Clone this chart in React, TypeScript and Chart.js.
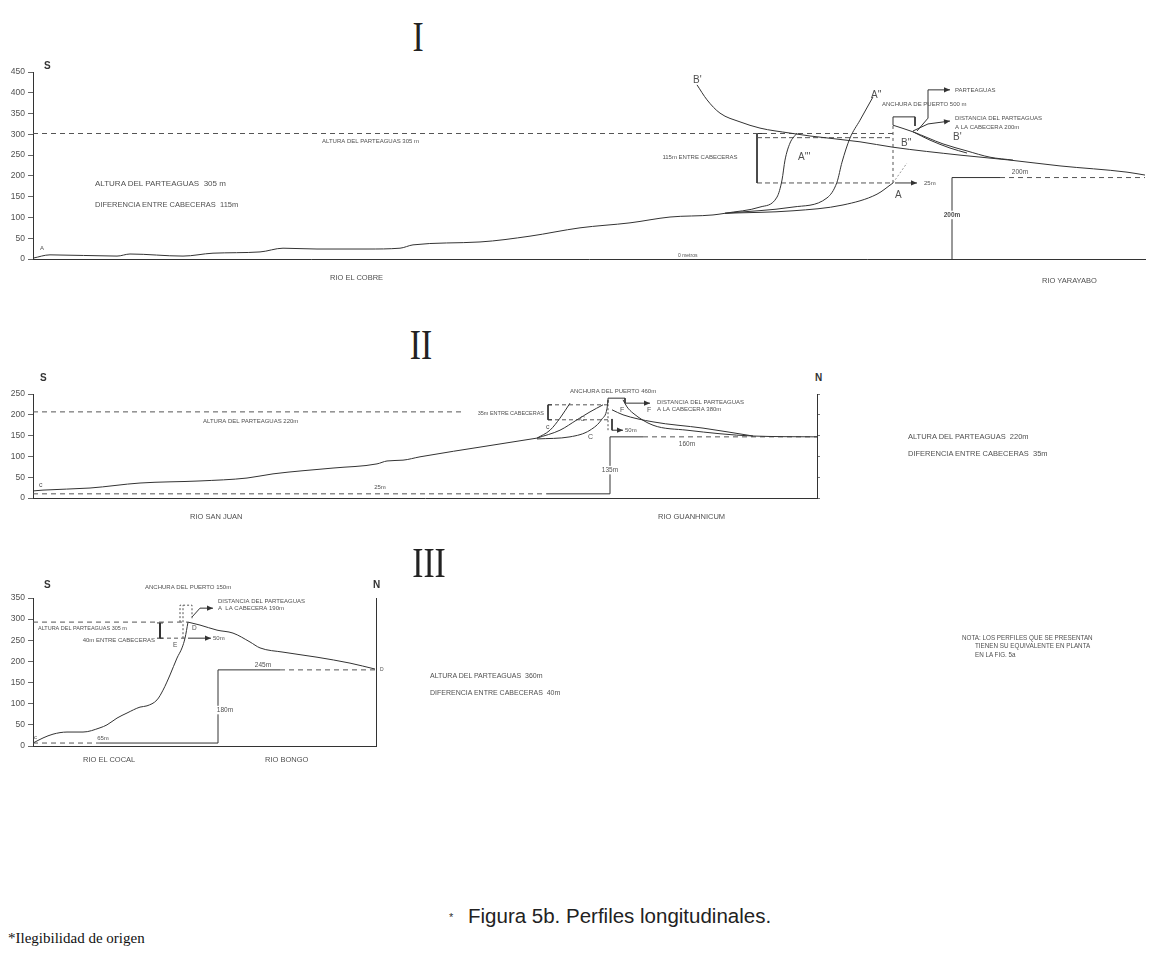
import React, { useEffect, useRef } from "react";
import { Chart, registerables } from "chart.js";
Chart.register(...registerables);

const FONT = '"Liberation Sans", Arial, Helvetica, sans-serif';
const SERIF = '"Liberation Serif", "Times New Roman", serif';
const INK = "#333";
const DASH = "#555";
const TXT = "#505050";

// ---------------- Perfil I (Río El Cobre – Río Yarayabo) ----------------
const yTicksI = [0, 50, 100, 150, 200, 250, 300, 350, 400, 450];
const cobreX = [0, 17, 84, 97, 150, 180, 227, 250, 284, 334, 367, 380, 447, 497, 547, 597, 637, 680, 692];
const cobreY = [2, 10, 7, 12, 7, 14, 17, 26, 24, 24, 26, 34, 41, 55, 75, 87, 101, 106, 110];
const cabAX = [692, 760, 810, 844, 860];
const cabAY = [110, 116, 130, 156, 183];
const cabA2X = [692, 760, 794, 804, 809, 817, 827, 840];
const cabA2Y = [110, 125, 147, 185, 233, 291, 334, 390];
const cabA3X = [692, 727, 744, 749, 752, 757, 764];
const cabA3Y = [110, 125, 149, 190, 238, 279, 303];
const yarayaboX = [664, 674, 687, 707, 727, 757, 777, 827, 860, 927, 977, 1027, 1094, 1112];
const yarayaboY = [419, 383, 351, 330, 315, 303, 296, 282, 269, 250, 238, 224, 209, 202];
const cabB2X = [860, 880, 910, 934, 957, 980];
const cabB2Y = [322, 306, 277, 260, 245, 238];
const lenteX = [880, 897, 917, 934];
const lenteY = [306, 286, 267, 255];
const parteaguasI = 302;
const cabeceraI = 183;
const escalonI = 196;

// ---------------- Perfil II (Río San Juan – Río Guanhnicum) ----------------
const yTicksII = [0, 50, 100, 150, 200, 250];
const sanJuanX = [0, 10, 57, 107, 167, 214, 240, 300, 344, 354, 370, 387, 454, 504];
const sanJuanY = [17, 19, 24, 36, 41, 48, 58, 72, 82, 89, 91, 99, 125, 144];
const cabCaX = [504, 517, 527, 537];
const cabCaY = [144, 163, 192, 228];
const cabCbX = [504, 527, 544, 557, 570];
const cabCbY = [144, 163, 188, 207, 224];
const cabCcX = [504, 537, 557, 569, 574, 575];
const cabCcY = [142, 147, 163, 190, 215, 236];
const guanFaX = [590, 594, 600, 620, 654, 720, 784];
const guanFaY = [236, 219, 204, 175, 163, 149, 147];
const guanFbX = [579, 590, 620, 670, 720];
const guanFbY = [212, 200, 183, 168, 149];
const parteaguasII = 207;
const escalonII = 147;

// ---------------- Perfil III (Río El Cocal – Río Bongo) ----------------
const yTicksIII = [0, 50, 100, 150, 200, 250, 300, 350];
const cocalX = [0, 10, 20, 34, 50, 67, 74, 84, 94, 107, 114, 124, 130, 137, 144, 149, 152, 155];
const cocalY = [7, 19, 28, 33, 33, 43, 50, 66, 78, 92, 95, 109, 132, 168, 208, 232, 255, 293];
const bongoX = [155, 167, 184, 200, 217, 227, 250, 284, 317, 342];
const bongoY = [293, 286, 274, 267, 246, 232, 222, 210, 196, 182];
const parteaguasIII = 293;
const escalonIII = 180;

const L = (xs: number[], ys: number[], o: any = {}) => ({
  data: xs.map((x, i) => ({ x, y: ys[i] })),
  borderColor: o.c || INK,
  borderWidth: o.w ?? 1,
  borderDash: o.d || [],
  pointRadius: 0,
  fill: false,
  clip: false,
  tension: o.smooth ? 0.4 : 0,
  cubicInterpolationMode: o.smooth ? "monotone" : "default",
  arrow: !!o.arrow,
});

const dsI = [
  L(cobreX, cobreY, { smooth: true }),
  L(cabAX, cabAY, { smooth: true }),
  L(cabA2X, cabA2Y, { smooth: true }),
  L(cabA3X, cabA3Y, { smooth: true }),
  L(yarayaboX, yarayaboY, { smooth: true }),
  L(cabB2X, cabB2Y, { smooth: true }),
  L(lenteX, lenteY, { smooth: true }),
  L([0, 860], [parteaguasI, parteaguasI], { d: [5, 4], c: DASH }),
  L([724, 860], [parteaguasI - 10, parteaguasI - 10], { d: [5, 3], c: DASH }),
  L([732, 724, 724], [parteaguasI, parteaguasI, cabeceraI]),
  L([724, 860], [cabeceraI, cabeceraI], { d: [5, 3], c: DASH }),
  L([862, 884], [cabeceraI, cabeceraI], { arrow: true }),
  L([860, 860], [cabeceraI, 322], { d: [3, 3], c: DASH }),
  L([860, 860, 882, 882], [322, 342, 342, 320]),
  L([884, 895, 895, 917], [308, 339, 407, 407], { arrow: true }),
  L([880, 895, 917], [308, 325, 332], { arrow: true }),
  L([860, 874], [cabeceraI, 231], { d: [2, 2], c: "#999" }),
  L([919, 919, 967], [0, escalonI, escalonI]),
  L([967, 1112], [escalonI, escalonI], { d: [5, 4], c: DASH }),
];

const labI = [
  { t: "ALTURA DEL PARTEAGUAS 305 m", x: 289, y: 284, s: 6 },
  { t: "115m ENTRE CABECERAS", x: 667, y: 245, s: 6, a: "center" },
  { t: "B'", x: 660, y: 431, s: 10 },
  { t: "A''", x: 838, y: 395, s: 10 },
  { t: "A'''", x: 765, y: 245, s: 10 },
  { t: "B''", x: 868, y: 279, s: 10 },
  { t: "B'", x: 920, y: 293, s: 10 },
  { t: "A", x: 862, y: 154, s: 10 },
  { t: "ANCHURA DE PUERTO 500 m", x: 849, y: 373, s: 6 },
  { t: "PARTEAGUAS", x: 922, y: 407, s: 6 },
  { t: "DISTANCIA DEL PARTEAGUAS", x: 922, y: 339, s: 6 },
  { t: "A LA CABECERA 200m", x: 922, y: 318, s: 6 },
  { t: "25m", x: 891, y: 183, s: 6 },
  { t: "200m", x: 987, y: 210, s: 6.5, a: "center" },
  { t: "200m", x: 919, y: 106, s: 6.5, a: "center", bg: true, b: true },
  { t: "0 metros", x: 645, y: 8, s: 5 },
  { t: "A", x: 7, y: 26, s: 6 },
];

const dsII = [
  L(sanJuanX, sanJuanY, { smooth: true }),
  L(cabCaX, cabCaY, { smooth: true }),
  L(cabCbX, cabCbY, { smooth: true }),
  L(cabCcX, cabCcY, { smooth: true }),
  L(guanFaX, guanFaY, { smooth: true }),
  L(guanFbX, guanFbY, { smooth: true }),
  L([0, 430], [parteaguasII, parteaguasII], { d: [5, 4], c: DASH }),
  L([519, 515, 515, 519], [224, 224, 188, 188]),
  L([515, 575], [224, 224], { d: [4, 3], c: DASH }),
  L([515, 575], [188, 188], { d: [4, 3], c: DASH }),
  L([575, 575], [163, 240], { d: [2, 2], c: DASH }),
  L([575, 575, 592, 592], [228, 240, 240, 228]),
  L([592, 617], [228, 228], { arrow: true }),
  L([579, 579, 590], [190, 163, 163], { arrow: true }),
  L([0, 514], [10, 10], { d: [5, 4], c: DASH }),
  L([514, 577, 577, 610], [10, 10, escalonII, escalonII]),
  L([610, 784], [escalonII, escalonII], { d: [5, 4], c: DASH }),
];

const labII = [
  { t: "ALTURA DEL PARTEAGUAS 220m", x: 170, y: 185, s: 6 },
  { t: "35m ENTRE CABECERAS", x: 511, y: 204, s: 5.5, a: "right" },
  { t: "ANCHURA DEL PUERTO 460m", x: 537, y: 257, s: 6 },
  { t: "DISTANCIA DEL PARTEAGUAS", x: 624, y: 231, s: 6 },
  { t: "A LA CABECERA 380m", x: 624, y: 212, s: 6 },
  { t: "50m", x: 592, y: 163, s: 6 },
  { t: "25m", x: 347, y: 26, s: 6, a: "center" },
  { t: "135m", x: 577, y: 67, s: 6.5, a: "center", bg: true },
  { t: "160m", x: 654, y: 130, s: 6.5, a: "center" },
  { t: "c", x: 513, y: 171, s: 7 },
  { t: "C", x: 547, y: 190, s: 7 },
  { t: "C", x: 555, y: 147, s: 7 },
  { t: "F", x: 587, y: 212, s: 7 },
  { t: "F", x: 614, y: 212, s: 7 },
  { t: "c", x: 6, y: 31, s: 7 },
];

const dsIII = [
  L(cocalX, cocalY, { smooth: true }),
  L(bongoX, bongoY, { smooth: true }),
  L([0, 155], [parteaguasIII, parteaguasIII], { d: [5, 4], c: DASH }),
  L([127, 127], [291, 255], { w: 2 }),
  L([124, 130], [291, 291]),
  L([124, 130], [255, 255]),
  L([127, 155], [255, 255], { d: [4, 3], c: DASH }),
  L([155, 178], [255, 255], { arrow: true }),
  L([147, 147, 159, 159], [293, 333, 333, 300], { d: [2, 2], c: DASH }),
  L([150, 150], [255, 333], { d: [2, 2], c: DASH }),
  L([159, 167, 180], [305, 326, 326], { arrow: true }),
  L([0, 67], [7, 7], { d: [5, 4], c: DASH }),
  L([67, 185, 185, 247], [7, 7, escalonIII, escalonIII]),
  L([247, 342], [escalonIII, escalonIII], { d: [5, 4], c: DASH }),
];

const labIII = [
  { t: "ALTURA DEL PARTEAGUAS 305 m", x: 5, y: 279, s: 5.5 },
  { t: "40m ENTRE CABECERAS", x: 122, y: 251, s: 6, a: "right" },
  { t: "50m", x: 180, y: 255, s: 6 },
  { t: "DISTANCIA DEL PARTEAGUAS", x: 185, y: 343, s: 6 },
  { t: "A  LA CABECERA 190m", x: 185, y: 326, s: 6 },
  { t: "ANCHURA DEL PUERTO 150m", x: 112, y: 376, s: 6 },
  { t: "D", x: 159, y: 279, s: 6.5 },
  { t: "E", x: 140, y: 239, s: 6.5 },
  { t: "c", x: 1, y: 20, s: 6 },
  { t: "65m", x: 70, y: 19, s: 6, a: "center" },
  { t: "180m", x: 192, y: 85, s: 6.5, a: "center", bg: true },
  { t: "245m", x: 230, y: 191, s: 6.5, a: "center" },
  { t: "D", x: 347, y: 181, s: 5 },
];

function annotPlugin(labels: any[]) {
  return {
    id: "annot",
    afterDatasetsDraw(chart: any) {
      const { ctx } = chart;
      const xs = chart.scales.x;
      const ys = chart.scales.y;
      chart.data.datasets.forEach((ds: any, i: number) => {
        if (!ds.arrow) return;
        const pts = chart.getDatasetMeta(i).data;
        const a = pts[pts.length - 2];
        const b = pts[pts.length - 1];
        const ang = Math.atan2(b.y - a.y, b.x - a.x);
        const len = 6;
        const w = 2.6;
        ctx.save();
        ctx.fillStyle = INK;
        ctx.beginPath();
        ctx.moveTo(b.x, b.y);
        ctx.lineTo(b.x - len * Math.cos(ang) - w * Math.sin(ang), b.y - len * Math.sin(ang) + w * Math.cos(ang));
        ctx.lineTo(b.x - len * Math.cos(ang) + w * Math.sin(ang), b.y - len * Math.sin(ang) - w * Math.cos(ang));
        ctx.closePath();
        ctx.fill();
        ctx.restore();
      });
      labels.forEach((l) => {
        const s = l.s || 6;
        ctx.save();
        ctx.font = `${l.b ? "bold " : ""}${s}px ${FONT}`;
        ctx.textAlign = l.a || "left";
        ctx.textBaseline = "middle";
        const px = xs.getPixelForValue(l.x);
        const py = ys.getPixelForValue(l.y);
        if (l.bg) {
          const tw = ctx.measureText(l.t).width;
          const x0 = l.a === "center" ? px - tw / 2 : l.a === "right" ? px - tw : px;
          ctx.fillStyle = "#fff";
          ctx.fillRect(x0 - 1, py - s / 2 - 1, tw + 2, s + 2);
        }
        ctx.fillStyle = TXT;
        ctx.fillText(l.t, px, py);
        ctx.restore();
      });
    },
  };
}

type PanelCfg = {
  top: number;
  height: number;
  padTop: number;
  padBottom: number;
  padRight: number;
  xMax: number;
  yMax: number;
  yTicks: number[];
  datasets: any[];
  labels: any[];
  right?: "ticks" | "plain";
};

function Panel({ cfg }: { cfg: PanelCfg }) {
  const ref = useRef<HTMLCanvasElement>(null);
  useEffect(() => {
    const scales: any = {
      x: {
        type: "linear",
        min: 0,
        max: cfg.xMax,
        ticks: { display: false },
        grid: { display: true, drawOnChartArea: false, drawTicks: false },
        border: { display: true, color: INK, width: 1 },
        afterFit: (s: any) => {
          s.height = 0;
        },
      },
      y: {
        type: "linear",
        min: 0,
        max: cfg.yMax,
        afterBuildTicks: (s: any) => {
          s.ticks = cfg.yTicks.map((v) => ({ value: v }));
        },
        ticks: { color: TXT, font: { family: FONT, size: 8.5 }, padding: 3 },
        grid: { drawOnChartArea: false, drawTicks: true, tickLength: 5, color: "#666", lineWidth: 1 },
        border: { display: true, color: INK, width: 1 },
        afterFit: (s: any) => {
          s.width = 33;
        },
      },
    };
    if (cfg.right) {
      scales.y2 = {
        type: "linear",
        position: "right",
        min: 0,
        max: cfg.yMax,
        afterBuildTicks: (s: any) => {
          s.ticks = cfg.yTicks.map((v) => ({ value: v }));
        },
        ticks: { display: false },
        grid: {
          drawOnChartArea: false,
          drawTicks: cfg.right === "ticks",
          tickLength: 3,
          color: "#777",
        },
        border: { display: true, color: INK, width: 1 },
        afterFit: (s: any) => {
          s.width = 0;
        },
      };
    }
    const chart = new Chart(ref.current as HTMLCanvasElement, {
      type: "line",
      data: { datasets: cfg.datasets },
      options: {
        animation: false,
        responsive: false,
        events: [],
        layout: { padding: { top: cfg.padTop, bottom: cfg.padBottom, right: cfg.padRight, left: 0 } },
        plugins: { legend: { display: false }, tooltip: { enabled: false } },
        scales,
      },
      plugins: [annotPlugin(cfg.labels)],
    } as any);
    return () => chart.destroy();
  }, []);
  return (
    <canvas
      ref={ref}
      width={1161}
      height={cfg.height}
      style={{ position: "absolute", left: 0, top: cfg.top, width: 1161, height: cfg.height }}
    />
  );
}

const panelI: PanelCfg = {
  top: 60, height: 225, padTop: 12, padBottom: 26, padRight: 16,
  xMax: 1112, yMax: 450, yTicks: yTicksI, datasets: dsI, labels: labI,
};
const panelII: PanelCfg = {
  top: 385, height: 140, padTop: 9, padBottom: 27, padRight: 344,
  xMax: 784, yMax: 250, yTicks: yTicksII, datasets: dsII, labels: labII, right: "ticks",
};
const panelIII: PanelCfg = {
  top: 575, height: 200, padTop: 23, padBottom: 29, padRight: 785,
  xMax: 343, yMax: 350, yTicks: yTicksIII, datasets: dsIII, labels: labIII, right: "plain",
};

function T(props: any) {
  const { x, y, s = 8, w, f, c, children, center, sx } = props;
  return (
    <div
      style={{
        position: "absolute",
        left: x,
        top: y,
        fontSize: s,
        fontFamily: f || FONT,
        fontWeight: w || "normal",
        color: c || TXT,
        lineHeight: 1,
        whiteSpace: "pre",
        transform: `translate(${center ? "-50%" : "0"}, -50%)${sx ? ` scaleX(${sx})` : ""}`,
        transformOrigin: "center",
      }}
    >
      {children}
    </div>
  );
}

export default function App() {
  return (
    <div style={{ position: "absolute", left: 0, top: 0, width: 1161, height: 956, background: "#fff", overflow: "hidden" }}>
      <Panel cfg={panelI} />
      <Panel cfg={panelII} />
      <Panel cfg={panelIII} />

      {/* Perfil I */}
      <T x={418} y={37} s={42} f={SERIF} c="#222" center sx={0.8}>I</T>
      <T x={44} y={66} s={10} w="bold" c="#333">S</T>
      <T x={95} y={184} s={8}>ALTURA DEL PARTEAGUAS  305 m</T>
      <T x={95} y={205} s={7.5}>DIFERENCIA ENTRE CABECERAS  115m</T>
      <T x={330} y={278} s={7.5}>RIO EL COBRE</T>
      <T x={1042} y={281} s={7.5}>RIO YARAYABO</T>

      {/* Perfil II */}
      <T x={421} y={345} s={42} f={SERIF} c="#222" center sx={0.8}>II</T>
      <T x={40} y={378} s={10} w="bold" c="#333">S</T>
      <T x={815} y={378} s={10} w="bold" c="#333">N</T>
      <T x={908} y={437} s={7.5}>ALTURA DEL PARTEAGUAS  220m</T>
      <T x={908} y={454} s={7.5}>DIFERENCIA ENTRE CABECERAS  35m</T>
      <T x={190} y={517} s={7.5}>RIO SAN JUAN</T>
      <T x={658} y={517} s={7.5}>RIO GUANHNICUM</T>

      {/* Perfil III */}
      <T x={429} y={563} s={42} f={SERIF} c="#222" center sx={0.8}>III</T>
      <T x={44} y={585} s={10} w="bold" c="#333">S</T>
      <T x={373} y={585} s={10} w="bold" c="#333">N</T>
      <T x={430} y={675} s={7}>ALTURA DEL PARTEAGUAS  360m</T>
      <T x={430} y={692} s={7}>DIFERENCIA ENTRE CABECERAS  40m</T>
      <T x={83} y={760} s={7.5}>RIO EL COCAL</T>
      <T x={265} y={760} s={7.5}>RIO BONGO</T>

      {/* Nota */}
      <T x={962} y={638} s={6.3}>NOTA: LOS PERFILES QUE SE PRESENTAN</T>
      <T x={975} y={646} s={6.3}>TIENEN SU EQUIVALENTE EN PLANTA</T>
      <T x={975} y={655} s={6.3}>EN LA FIG. 5a</T>

      {/* Pie de figura */}
      <T x={449} y={917} s={11} c="#333">*</T>
      <T x={468} y={916} s={20.5} c="#222">Figura 5b. Perfiles longitudinales.</T>
      <T x={8} y={938} s={15} f={SERIF} c="#111">*Ilegibilidad de origen</T>
    </div>
  );
}
